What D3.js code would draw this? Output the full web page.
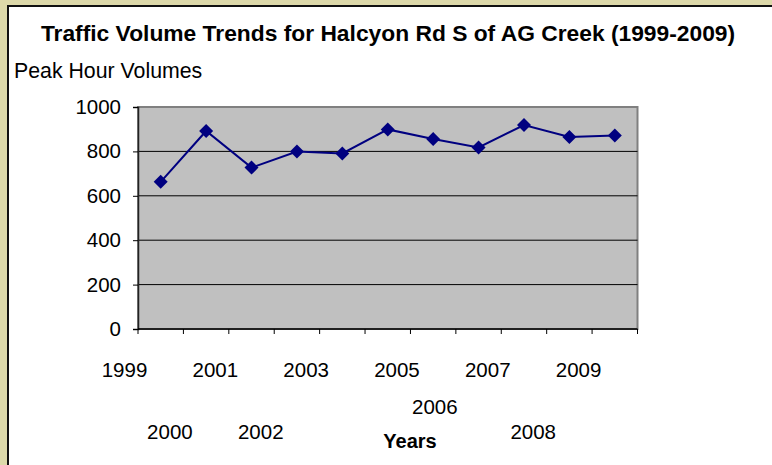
<!DOCTYPE html>
<html>
<head>
<meta charset="utf-8">
<script src="https://cdn.jsdelivr.net/npm/d3@7/dist/d3.min.js"></script>
<style>
  html, body { margin: 0; padding: 0; background: #ddd9aa; }
  svg { display: block; font-family: "Liberation Sans", Arial, sans-serif; }
</style>
</head>
<body>
<div id="chart"></div>
<script>
const years = ['1999', '2000', '2001', '2002', '2003', '2004', '2005', '2006', '2007', '2008', '2009']
const volumes = [663, 892, 727, 799, 791, 899, 856, 818, 919, 865, 872]
const yTicks = [0, 200, 400, 600, 800, 1000]

const title = 'Traffic Volume Trends for Halcyon Rd S of AG Creek (1999-2009)'
const yTitle = 'Peak Hour Volumes'
const xTitle = 'Years'

const width = 772
const height = 465

// plot box
const plot = { left: 138, right: 637.5, top: 107, bottom: 329 }

const svg = d3.select('#chart')
  .append('svg')
  .attr('width', width)
  .attr('height', height)

// beige frame + white chart area with dark edge
svg.append('rect')
  .attr('width', width).attr('height', height)
  .attr('fill', '#ddd9aa')
svg.append('rect')
  .attr('x', 8).attr('y', 6)
  .attr('width', width).attr('height', height)
  .attr('fill', '#fff')
  .attr('stroke', '#111')
  .attr('stroke-width', 2)

const x = d3.scaleBand()
  .domain(years)
  .range([plot.left, plot.right])

const y = d3.scaleLinear()
  .domain([0, 1000])
  .range([plot.bottom, plot.top])

// plot background
svg.append('rect')
  .attr('x', plot.left).attr('y', plot.top)
  .attr('width', plot.right - plot.left)
  .attr('height', plot.bottom - plot.top)
  .attr('fill', '#c0c0c0')
  .attr('stroke', '#808080')
  .attr('stroke-width', 2)

// gridlines
svg.append('g')
  .selectAll('line')
  .data(yTicks.filter(d => d > 0 && d < 1000))
  .join('line')
  .attr('x1', plot.left).attr('x2', plot.right)
  .attr('y1', d => y(d)).attr('y2', d => y(d))
  .attr('stroke', '#000')
  .attr('stroke-width', 1)

// y axis
const yAxis = svg.append('g')
  .attr('transform', `translate(${plot.left},0)`)
  .call(d3.axisLeft(y).tickValues(yTicks).tickFormat(d3.format('d')).tickSize(5).tickPadding(12))
yAxis.select('.domain').attr('stroke', '#222').attr('stroke-width', 1.5)
yAxis.selectAll('.tick line').attr('stroke', '#000')
yAxis.selectAll('.tick text')
  .attr('font-size', 20.5)
  .attr('font-family', '"Liberation Sans", Arial, sans-serif')
  .attr('fill', '#000')

// x axis: ticks sit on the band edges
const edges = years.map(d => x(d)).concat([x.range()[1]])
const xAxis = svg.append('g')
  .attr('transform', `translate(0,${plot.bottom})`)
xAxis.append('line')
  .attr('x1', plot.left).attr('x2', plot.right)
  .attr('stroke', '#000').attr('stroke-width', 1.5)
xAxis.selectAll('.tick')
  .data(edges)
  .join('line')
  .attr('class', 'tick')
  .attr('x1', d => d).attr('x2', d => d)
  .attr('y1', 0).attr('y2', 5)
  .attr('stroke', '#000')

// staggered year labels, as the original squeezed them
const labelRow = { 1999: 0, 2000: 2, 2001: 0, 2002: 2, 2003: 0, 2005: 0, 2006: 1, 2007: 0, 2008: 2, 2009: 0 }
const rowBaseline = [377, 414, 439]
const rowShift = [0, -7.5, 0]
svg.append('g')
  .selectAll('text')
  .data(years.filter(d => labelRow[d] !== undefined))
  .join('text')
  .attr('x', d => x(d) - 13.5 + rowShift[labelRow[d]])
  .attr('y', d => rowBaseline[labelRow[d]])
  .attr('text-anchor', 'middle')
  .attr('font-size', 20.5)
  .text(d => d)

// series line + diamonds
const points = years.map((d, i) => ({ year: d, value: volumes[i] }))
const cx = d => x(d.year) + x.bandwidth() / 2

svg.append('path')
  .datum(points)
  .attr('fill', 'none')
  .attr('stroke', '#000080')
  .attr('stroke-width', 2)
  .attr('d', d3.line().x(cx).y(d => y(d.value)))

svg.append('g')
  .selectAll('path')
  .data(points)
  .join('path')
  .attr('transform', d => `translate(${cx(d)},${y(d.value)})`)
  .attr('d', 'M0,-7L7,0L0,7L-7,0Z')
  .attr('fill', '#000080')

// titles
svg.append('text')
  .attr('x', 388).attr('y', 41)
  .attr('text-anchor', 'middle')
  .attr('font-size', 22.8)
  .attr('font-weight', 'bold')
  .text(title)

svg.append('text')
  .attr('x', 14).attr('y', 78)
  .attr('font-size', 21.3)
  .text(yTitle)

svg.append('text')
  .attr('x', 410).attr('y', 448)
  .attr('text-anchor', 'middle')
  .attr('font-size', 20)
  .attr('font-weight', 'bold')
  .text(xTitle)
</script>
</body>
</html>
